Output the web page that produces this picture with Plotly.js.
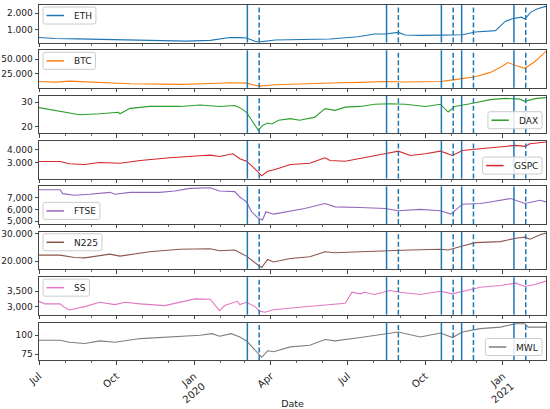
<!DOCTYPE html>
<html><head><meta charset="utf-8">
<script src="https://cdn.plot.ly/plotly-3.0.1.min.js"></script>
<style>html,body{margin:0;padding:0;background:#fff}#chart{width:550px;height:409px}</style>
</head><body><div id="chart"></div>
<script>
const ethDates = ['2019-07-01','2019-07-20','2019-08-15','2019-09-15','2019-10-17','2019-11-21','2019-12-23','2020-01-20','2020-02-12','2020-02-24','2020-03-03','2020-03-13','2020-03-17','2020-04-06','2020-05-11','2020-06-10','2020-07-13','2020-08-02','2020-08-14','2020-08-30','2020-09-07','2020-09-25','2020-10-19','2020-11-14','2020-11-29','2020-12-23','2021-01-04','2021-01-12','2021-01-23','2021-01-27','2021-02-03','2021-02-11','2021-02-21'];
const ethValues = [554,494,470,430,400,380,337,380,554,540,520,330,277,398,440,460,596,759,760,855,700,675,690,717,880,958,1518,1663,1759,1650,2060,2265,2404];

const btcDates = ['2019-07-01','2019-07-20','2019-08-06','2019-09-11','2019-10-17','2019-11-21','2019-12-15','2020-01-20','2020-02-12','2020-03-03','2020-03-13','2020-03-17','2020-04-06','2020-05-11','2020-06-22','2020-07-16','2020-08-14','2020-09-07','2020-10-19','2020-11-05','2020-11-14','2020-11-29','2020-12-17','2020-12-29','2021-01-07','2021-01-16','2021-01-27','2021-02-08','2021-02-21'];
const btcValues = [12330,11300,13000,11000,8500,7880,7500,8800,10100,9500,5500,4460,6680,8800,10100,10800,12300,11500,12330,15500,17000,20400,27700,36300,44350,39200,34600,46060,63180];

const daxDates = ['2019-07-01','2019-07-26','2019-08-18','2019-09-11','2019-10-03','2019-10-05','2019-10-17','2019-11-09','2019-12-15','2020-01-08','2020-01-31','2020-02-18','2020-02-24','2020-03-03','2020-03-09','2020-03-17','2020-03-22','2020-03-28','2020-04-02','2020-04-10','2020-04-24','2020-05-05','2020-05-23','2020-06-04','2020-06-16','2020-06-28','2020-07-16','2020-08-02','2020-08-20','2020-09-07','2020-10-01','2020-10-19','2020-10-28','2020-11-05','2020-11-23','2020-12-17','2021-01-04','2021-01-21','2021-01-27','2021-02-08','2021-02-21'];
const daxValues = [27.7,26.3,24.8,25.2,25.8,25.2,27.4,28.2,28.2,28.8,28.2,28.6,27.7,25.8,22.5,18.4,20.4,21.4,21.0,22.5,23.2,22.5,23.8,27.3,26.6,27.9,28.2,29.1,29.3,29.1,28.2,29.1,25.9,28.2,29.3,31.0,31.5,31.2,30.3,31.4,31.8];

const gspcDates = ['2019-07-01','2019-07-26','2019-08-06','2019-08-24','2019-09-11','2019-10-05','2019-10-29','2019-12-03','2020-01-08','2020-01-20','2020-01-31','2020-02-16','2020-02-24','2020-03-03','2020-03-13','2020-03-21','2020-03-28','2020-04-05','2020-04-24','2020-05-17','2020-06-04','2020-06-10','2020-06-28','2020-07-21','2020-08-14','2020-08-30','2020-09-13','2020-10-01','2020-10-19','2020-11-02','2020-11-14','2020-12-05','2020-12-29','2021-01-16','2021-01-27','2021-02-02','2021-02-21'];
const gspcValues = [3098,3098,2925,2872,3022,2970,3173,3376,3526,3571,3474,3677,3300,3120,2549,2022,2368,2480,2872,2970,3376,3173,3120,3421,3677,3872,3549,3677,3872,3549,3925,4053,4173,4300,4226,4429,4550];

const ftseDates = ['2019-07-01','2019-07-26','2019-07-29','2019-08-12','2019-08-30','2019-09-23','2019-09-29','2019-10-17','2019-11-21','2019-12-09','2019-12-27','2020-01-20','2020-01-31','2020-02-18','2020-02-24','2020-03-03','2020-03-09','2020-03-17','2020-03-22','2020-03-26','2020-04-04','2020-04-24','2020-05-11','2020-06-04','2020-06-16','2020-07-16','2020-08-14','2020-08-30','2020-09-25','2020-10-19','2020-10-31','2020-11-14','2020-12-05','2020-12-17','2021-01-10','2021-01-27','2021-02-14','2021-02-21'];
const ftseValues = [7666,7666,7333,7190,7275,7441,7275,7441,7441,7550,7775,7833,7550,7500,7050,6633,5800,5250,5110,5800,5600,5883,6083,6500,6217,6167,6083,5883,6000,5883,5608,6441,6500,6633,6917,6500,6775,6633];

const n225Dates = ['2019-07-01','2019-07-26','2019-08-12','2019-08-24','2019-09-23','2019-10-05','2019-11-09','2019-12-15','2020-01-20','2020-01-31','2020-02-18','2020-03-03','2020-03-17','2020-03-21','2020-03-28','2020-04-04','2020-04-24','2020-05-17','2020-06-04','2020-06-16','2020-07-16','2020-08-14','2020-09-13','2020-10-19','2020-10-28','2020-11-14','2020-11-29','2020-12-29','2021-01-16','2021-01-27','2021-02-02','2021-02-14','2021-02-21'];
const n225Values = [22200,22200,21355,21210,22560,21830,23400,24290,24510,23770,24030,21830,18535,17690,20620,19700,20990,21575,23400,23040,23400,23770,24030,24290,24030,25500,26700,27070,28310,28680,27950,29520,30150];

const ssDates = ['2019-07-01','2019-07-08','2019-07-26','2019-07-31','2019-08-06','2019-08-24','2019-09-11','2019-09-29','2019-10-11','2019-10-29','2019-11-27','2019-12-15','2020-01-02','2020-01-20','2020-01-31','2020-02-06','2020-02-21','2020-02-24','2020-03-03','2020-03-13','2020-03-19','2020-03-25','2020-04-04','2020-05-05','2020-05-29','2020-06-28','2020-07-06','2020-07-16','2020-07-21','2020-08-02','2020-08-20','2020-09-01','2020-09-25','2020-10-19','2020-11-02','2020-11-17','2020-12-05','2020-12-29','2021-01-16','2021-01-27','2021-02-08','2021-02-21'];
const ssValues = [3173,3088,3088,2977,2892,3000,3141,3065,3141,3088,3033,3141,3251,3240,2870,3033,3173,3065,3141,3000,2847,2815,2900,2977,3033,3109,3467,3414,3467,3392,3523,3467,3392,3500,3414,3523,3631,3686,3761,3654,3719,3827];

const mwlDates = ['2019-07-01','2019-07-26','2019-08-06','2019-08-24','2019-09-11','2019-09-29','2019-10-29','2019-12-03','2020-01-08','2020-01-22','2020-01-31','2020-02-14','2020-02-24','2020-03-03','2020-03-13','2020-03-21','2020-03-28','2020-04-04','2020-04-24','2020-05-17','2020-06-04','2020-06-16','2020-07-16','2020-08-14','2020-08-30','2020-09-25','2020-10-19','2020-11-02','2020-11-14','2020-12-05','2020-12-29','2021-01-16','2021-01-27','2021-01-31','2021-02-21'];
const mwlValues = [93.4,93.4,90.8,89.1,92.5,90.8,95.6,97.8,100,102.2,98.7,102.2,97.8,92.5,80.3,70.7,79.3,78,84.6,86.8,94.3,92.5,97,101.3,104.3,97.8,103,97,104.3,108.8,110.9,115.4,115.4,110.9,110.9];

const seriesNames = ['ETH','BTC','DAX','GSPC','FTSE','N225','SS','MWL'];
const seriesDates = [ethDates,btcDates,daxDates,gspcDates,ftseDates,n225Dates,ssDates,mwlDates];
const seriesValues = [ethValues,btcValues,daxValues,gspcValues,ftseValues,n225Values,ssValues,mwlValues];
const seriesColors = ['#1f77b4','#ff7f0e','#2ca02c','#d62728','#9467bd','#8c564b','#e377c2','#7f7f7f'];
const legendCorners = ['ul','ul','lr','lr','ll','ul','ul','lr'];

const yRanges = [[253,2482],[1540,64890],[17.2,32.6],[1820,4624],[4775,7940],[17070,30620],[2739,3957],[67.1,117]];
const yTickVals = [[1000,2000],[25000,50000],[20,30],[3000,4000],[5000,6000,7000],[20000,30000],[3000,3500],[75,100]];
const yTickText = [['1.000','2.000'],['25.000','50.000'],['20','30'],['3.000','4.000'],['5,000','6,000','7,000'],['20.000','30.000'],['3,000','3,500'],['75','100']];

const xRange = ['2019-07-01','2021-02-21'];
const xTickVals = ['2019-07-01','2019-10-01','2020-01-01','2020-04-01','2020-07-01','2020-10-01','2021-01-01'];
const xTickText = ['Jul','Oct','Jan<br>2020','Apr','Jul','Oct','Jan<br>2021'];

const solidDates = ['2020-03-04','2020-08-16','2020-10-20','2020-11-13','2021-01-14'];
const dashedDates = ['2020-03-18','2020-08-30','2020-11-03','2020-11-27','2021-01-28'];

const W = 550, H = 409, ML = 39, MR = 4, MT = 5, MB = 49;
const plotW = W - ML - MR, plotH = H - MT - MB;
const panelH = 37.5, pitch = (plotH - panelH) / 7;
const FONT = 'DejaVu Sans, sans-serif';
const LEG_FONT = 9;
const pyToPaper = py => (H - MB - py) / plotH;
const pxToPaper = px => (px - ML) / plotW;

const measureCtx = document.createElement('canvas').getContext('2d');
measureCtx.font = LEG_FONT + 'px "DejaVu Sans"';
const textWidth = s => measureCtx.measureText(s).width;

function roundedBox(x0, y0, x1, y1, r) {
  const X = pxToPaper, Y = pyToPaper;
  return 'M' + X(x0 + r) + ',' + Y(y0) +
    ' L' + X(x1 - r) + ',' + Y(y0) + ' Q' + X(x1) + ',' + Y(y0) + ' ' + X(x1) + ',' + Y(y0 + r) +
    ' L' + X(x1) + ',' + Y(y1 - r) + ' Q' + X(x1) + ',' + Y(y1) + ' ' + X(x1 - r) + ',' + Y(y1) +
    ' L' + X(x0 + r) + ',' + Y(y1) + ' Q' + X(x0) + ',' + Y(y1) + ' ' + X(x0) + ',' + Y(y1 - r) +
    ' L' + X(x0) + ',' + Y(y0 + r) + ' Q' + X(x0) + ',' + Y(y0) + ' ' + X(x0 + r) + ',' + Y(y0) + ' Z';
}

const traces = [];
const layout = {
  width: W, height: H,
  margin: {l: ML, r: MR, t: MT, b: MB, pad: 0},
  paper_bgcolor: '#fff', plot_bgcolor: '#fff',
  font: {family: FONT, size: 9, color: '#222'},
  showlegend: false,
  shapes: [], annotations: []
};

const legendShapes = [];
for (let k = 0; k < 8; k++) {
  const n = k + 1;
  const xa = n === 1 ? 'xaxis' : 'xaxis' + n;
  const ya = n === 1 ? 'yaxis' : 'yaxis' + n;
  const xr = n === 1 ? 'x' : 'x' + n;
  const yr = n === 1 ? 'y' : 'y' + n;
  const topPx = MT + k * pitch;
  const botPx = topPx + panelH;
  traces.push({
    x: seriesDates[k], y: seriesValues[k], type: 'scatter', mode: 'lines',
    name: seriesNames[k], xaxis: xr, yaxis: yr, showlegend: false,
    line: {color: seriesColors[k], width: 1.1}
  });
  const isBottom = k === 7;
  layout[xa] = {
    type: 'date', range: xRange, anchor: yr,
    showline: true, mirror: true, linecolor: '#444', linewidth: 1,
    showgrid: false, zeroline: false,
    tickmode: 'array', tickvals: xTickVals, ticktext: xTickText,
    ticks: 'outside', ticklen: 3.5, tickwidth: 1, tickcolor: '#444',
    minor: {ticks: 'outside', dtick: 'M1', tick0: '2019-07-01', ticklen: 2, tickwidth: 0.8, tickcolor: '#444', showgrid: false},
    showticklabels: isBottom, tickangle: -40, ticklabelstandoff: 2,
    tickfont: {family: FONT, size: 10, color: '#222'}
  };
  if (n > 1) layout[xa].matches = 'x';
  if (isBottom) layout[xa].title = {text: 'Date', font: {family: FONT, size: 9.5, color: '#222'}, standoff: 2};
  layout[ya] = {
    domain: [pyToPaper(botPx), pyToPaper(topPx)], anchor: xr,
    range: yRanges[k], showline: true, mirror: true, linecolor: '#444', linewidth: 1,
    showgrid: false, zeroline: false,
    tickmode: 'array', tickvals: yTickVals[k], ticktext: yTickText[k],
    ticks: 'outside', ticklen: 3.5, tickwidth: 1, tickcolor: '#444',
    tickfont: {family: FONT, size: 9, color: '#222'}
  };

  const boxW = 3 + 18 + 8 + textWidth(seriesNames[k]) + 6;
  const boxH = 17;
  let bx0, by0;
  const corner = legendCorners[k];
  if (corner === 'ul') { bx0 = ML + 4; by0 = topPx + 2; }
  if (corner === 'll') { bx0 = ML + 4; by0 = botPx - 4.5 - boxH; }
  if (corner === 'lr') { bx0 = W - MR - 4 - boxW; by0 = botPx - 4.5 - boxH; }
  const bx1 = bx0 + boxW, by1 = by0 + boxH, midY = by0 + boxH / 2;
  legendShapes.push({type: 'path', xref: 'paper', yref: 'paper', path: roundedBox(bx0, by0, bx1, by1, 2),
    fillcolor: 'rgba(255,255,255,0.85)', line: {color: '#cccccc', width: 1}, layer: 'above'});
  legendShapes.push({type: 'line', xref: 'paper', yref: 'paper', x0: pxToPaper(bx0 + 3.5), x1: pxToPaper(bx0 + 21), y0: pyToPaper(midY), y1: pyToPaper(midY),
    line: {color: seriesColors[k], width: 1.5}, layer: 'above'});
  layout.annotations.push({xref: 'paper', yref: 'paper', x: pxToPaper(bx0 + 29), y: pyToPaper(midY + 0.5), xanchor: 'left', yanchor: 'middle',
    text: seriesNames[k], showarrow: false, font: {family: FONT, size: LEG_FONT, color: '#222'}});

  solidDates.forEach(d => layout.shapes.push({type: 'line', xref: xr, yref: yr + ' domain', x0: d, x1: d, y0: 0, y1: 1, line: {color: '#1f77b4', width: 1.5}}));
  dashedDates.forEach(d => layout.shapes.push({type: 'line', xref: xr, yref: yr + ' domain', x0: d, x1: d, y0: 0, y1: 1, line: {color: '#1f77b4', width: 1.5, dash: '5px,2.5px'}}));
}
layout.shapes = layout.shapes.concat(legendShapes);

Plotly.newPlot('chart', traces, layout, {staticPlot: true, displayModeBar: false});
</script></body></html>
